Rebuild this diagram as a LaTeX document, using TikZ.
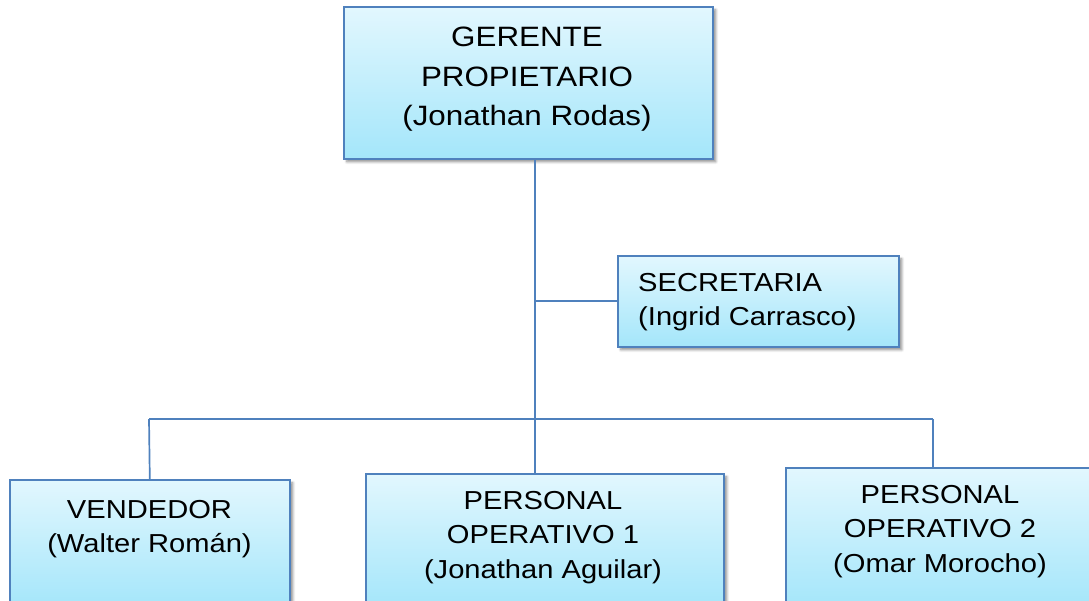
\documentclass[tikz,border=0pt]{standalone}
\usepackage{fontspec}
\setmainfont[FakeStretch=1.12]{Liberation Sans}
\usetikzlibrary{shadows.blur}

\definecolor{edgeblue}{HTML}{4F81BD}
\definecolor{filltop}{HTML}{E2F7FE}
\definecolor{fillbot}{HTML}{A4E6FA}

\tikzset{
  orgbox/.style={rectangle, draw=edgeblue, line width=1.6pt, inner sep=0pt,
    top color=filltop, bottom color=fillbot, anchor=north west,
    blur shadow={shadow xshift=3pt, shadow yshift=-3pt, shadow blur steps=6,
      shadow blur radius=2.5pt, shadow opacity=45}},
  boxtext/.style={inner sep=0pt, text=black, align=center, anchor=north},
  bigtext/.style={boxtext, font=\fontsize{28}{39.5}\selectfont},
  smalltext/.style={boxtext, font=\fontsize{26}{34.5}\selectfont},
  link/.style={draw=edgeblue, line width=1.7pt}
}

\begin{document}
\begin{tikzpicture}[x=1pt, y=-1pt]
  \useasboundingbox (0,0) rectangle (1089,601);
  \clip (0,0) rectangle (1089,601);

  % boxes
  \node[orgbox, minimum width=369pt, minimum height=152pt] (gerente) at (343,6) {};
  \node[orgbox, minimum width=281pt, minimum height=91pt] (secre) at (617,255) {};
  \node[orgbox, minimum width=280pt, minimum height=128pt] (vend) at (9,479) {};
  \node[orgbox, minimum width=358pt, minimum height=134pt] (oper1) at (365,473) {};
  \node[orgbox, minimum width=315pt, minimum height=140pt] (oper2) at (785,467) {};

  % labels
  \node[bigtext] (tgerente) at (527,27) {GERENTE\\PROPIETARIO\\(Jonathan Rodas)};
  \node[smalltext, align=left, anchor=north west] (tsecre) at (638,273) {SECRETARIA\\(Ingrid Carrasco)};
  \node[smalltext] (tvend) at (149.5,500) {VENDEDOR\\(Walter Román)};
  \node[smalltext] (toper1) at (543,491) {PERSONAL\\OPERATIVO 1\\(Jonathan Aguilar)};
  \node[smalltext] (toper2) at (940,485) {PERSONAL\\OPERATIVO 2\\(Omar Morocho)};

  % connectors
  \coordinate (trunk) at (535,419);
  \coordinate (busL) at (149,419);
  \coordinate (busR) at (933,419);
  \draw[link] (gerente.south -| trunk) -- (oper1.north -| trunk);
  \draw[link] (secre.west -| trunk) -- (secre.west);
  \draw[link] (busL) -- (busR);
  \draw[link] (busL) -- (vend.north);
  \draw[link] (busR) -- (busR |- oper2.north);
\end{tikzpicture}
\end{document}
